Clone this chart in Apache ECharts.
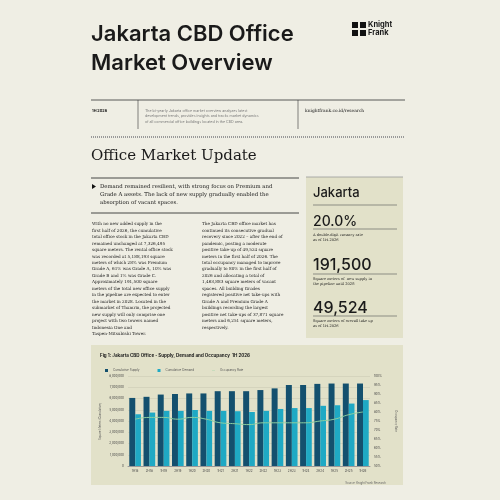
<!DOCTYPE html>
<html><head><meta charset="utf-8">
<script src="https://cdn.jsdelivr.net/npm/echarts@6/dist/echarts.min.js"></script>
<style>html,body{margin:0;padding:0;background:#efeee4}#c{width:500px;height:500px}</style>
</head><body><div id="c"></div>
<script>
const categories=['1H18','2H18','1H19','2H19','1H20','2H20','1H21','2H21','1H22','2H22','1H23','2H23','1H24','2H24','1H25','2H25','1H26'];
const cumulativeSupply=[6050000,6150000,6350000,6400000,6450000,6450000,6650000,6650000,6650000,6750000,6900000,7200000,7200000,7300000,7330000,7330000,7330000];
const cumulativeDemand=[4600000,4750000,4900000,4900000,4980000,4900000,4900000,4870000,4800000,4900000,5070000,5150000,5150000,5350000,5400000,5550000,5860000];
const occupancyRate=[76,77,77,76,77,76,74,73.5,73,74,74,74,74,75,76,78.5,80];
const leftTicks=[0,8000000,1000000];
const rightTicks=[50,100,5];

const serif='"DejaVu Serif", "Liberation Serif", serif';
const sans='Inter, "Noto Sans", sans-serif';
function t(x,y,text,size,opt,extra){return Object.assign({type:'text',x:x,y:y,style:Object.assign({text:text,fontSize:size,fill:'#1a1a1a',fontFamily:sans,lineHeight:size*1.35},opt||{})},extra||{});}
function ln(x1,y1,x2,y2,w,c,dash){return {type:'line',shape:{x1,y1,x2,y2},style:{stroke:c||'#333',lineWidth:w||1,lineDash:dash}};}
function rect(x,y,w,h,c){return {type:'rect',shape:{x,y,width:w,height:h},style:{fill:c},z:-10};}

const col1='With no new added supply in the\nfirst half of 2026, the cumulative\ntotal office stock in the Jakarta CBD\nremained unchanged at 7,326,495\nsquare meters. The rental office stock\nwas recorded at 5,188,193 square\nmeters of which 28% was Premium\nGrade A, 61% was Grade A, 10% was\nGrade B and 1% was Grade C.\nApproximately 191,500 square\nmeters of the total new office supply\nin the pipeline are expected to enter\nthe market in 2028. Located in the\nsubmarket of Thamrin, the projected\nnew supply will only comprise one\nproject with two towers named\nIndonesia One and\nTaspen-Mitsubishi Tower.';
const col2='The Jakarta CBD office market has\ncontinued its consecutive gradual\nrecovery since 2022 – after the end of\npandemic, posting a moderate\npositive take-up of 49,524 square\nmeters in the first half of 2026. The\ntotal occupancy managed to improve\ngradually to 80% in the first half of\n2026 and allocating a total of\n1,463,883 square meters of vacant\nspaces. All building Grades\nregistered positive net take-ups with\nGrade A and Premium Grade A\nbuildings recording the largest\npositive net take-ups of 37,871 square\nmeters and 6,251 square meters,\nrespectively.';

const graphics=[
 rect(91,345,312,140,'#e2e1c9'),
 rect(306,177,97,161,'#e2e1c9'),
 t(91,20,'Jakarta CBD Office\nMarket Overview',22,{fontWeight:600,lineHeight:29}),
 {type:'rect',shape:{x:352,y:22,width:6,height:6},style:{fill:'#111'}},
 {type:'rect',shape:{x:360,y:30,width:6,height:6},style:{fill:'#111'}},
 {type:'rect',shape:{x:352,y:30,width:6,height:6},style:{fill:'#111'}},
 {type:'rect',shape:{x:360,y:22,width:6,height:6},style:{fill:'#111'}},
 t(368,21,'Knight\nFrank',7.5,{fontWeight:'bold',lineHeight:8}),
 ln(91,100,405,100,0.8,'#333'),
 ln(138,100,138,129,0.6,'#333'),
 ln(298,100,298,129,0.6,'#333'),
 t(92,108,'1H 2026',3.8,{fontWeight:'bold'}),
 t(145,108,'The bi-yearly Jakarta office market overview analyzes latest\ndevelopment trends, provides insights and tracks market dynamics\nof all commercial office buildings located in the CBD area.',3.6,{fill:'#777',lineHeight:5.5}),
 t(305,108,'knightfrank.co.id/research',4.4,{fontFamily:serif}),
 ln(91,137,405,137,2,'#999',[1,1]),
 t(91,146,'Office Market Update',15,{fontFamily:serif}),
 ln(91,178,299,178,0.9,'#333'),
 {type:'polygon',shape:{points:[[92,184],[96,186.5],[92,189]]},style:{fill:'#111'}},
 t(100,183,'Demand remained resilient, with strong focus on Premium and\nGrade A assets. The lack of new supply gradually enabled the\nabsorption of vacant spaces.',5.4,{fontFamily:serif,lineHeight:8}),
 ln(91,213,299,213,0.9,'#333'),
 t(92,221,col1,4.2,{fontFamily:serif,lineHeight:6.45,fill:'#222'}),
 t(202,221,col2,4.2,{fontFamily:serif,lineHeight:6.45,fill:'#222'}),
 ln(306,177,403,177,0.8,'#999'),
 t(313,184,'Jakarta',13,{fontWeight:500}),
 ln(313,205,397,205,0.6,'#555'),
 t(313,212,'20.0%',14,{fontWeight:500}),
 ln(313,229,397,229,0.6,'#555'),
 t(313,232,'A double-digit vacancy rate\nas of 1H-2026',3.6,{fontFamily:serif,lineHeight:5.2}),
 t(313,254,'191,500',16,{fontWeight:500}),
 ln(313,274,397,274,0.6,'#555'),
 t(313,276,'Square meters of  new supply in\nthe pipeline until 2028',3.6,{fontFamily:serif,lineHeight:5.2}),
 t(313,297,'49,524',16,{fontWeight:500}),
 ln(313,316,397,316,0.6,'#555'),
 t(313,318,'Square meters of overall take up\nas of 1H-2026',3.6,{fontFamily:serif,lineHeight:5.2}),
 t(100,353,'Fig 1: Jakarta CBD Office - Supply, Demand and Occupancy  1H 2026',4.5,{fontWeight:'bold'}),
 t(98,440,'Square Meters (Cumulative)',2.8,{fill:'#555'},{rotation:Math.PI/2}),
 t(386,481,'Source: Knight Frank Research',2.8,{fill:'#666',align:'right'})
];

const chart=echarts.init(document.getElementById('c'));
chart.setOption({
 backgroundColor:'#efeee4',animation:false,
 textStyle:{fontFamily:sans},
 graphic:graphics,
 legend:{left:100,top:364,itemWidth:3,itemHeight:3,itemGap:18,textStyle:{fontSize:3,color:'#555'},
  data:[{name:'Cumulative Supply',icon:'rect'},{name:'Cumulative Demand',icon:'rect'},{name:'Occupancy Rate',icon:'path://M0,0H10V1H0Z',itemStyle:{color:'#8ccfa0'}}]},
 grid:{left:128,right:130,top:376,bottom:34},
 xAxis:{type:'category',data:categories,axisTick:{show:false},axisLine:{lineStyle:{color:'#999'}},axisLabel:{fontSize:3,color:'#444',margin:4,interval:0}},
 yAxis:[
  {type:'value',min:leftTicks[0],max:leftTicks[1],interval:leftTicks[2],axisLabel:{fontSize:3,color:'#444',formatter:v=>v.toLocaleString('en-US'),margin:4},splitLine:{lineStyle:{color:'#c8c7b0',width:0.5}}},
  {type:'value',min:rightTicks[0],max:rightTicks[1],interval:rightTicks[2],position:'right',axisLabel:{fontSize:3,color:'#444',formatter:'{value}%',margin:4},splitLine:{show:false},
   name:'Occupancy Rate',nameLocation:'middle',nameRotate:-90,nameGap:24,nameTextStyle:{fontSize:2.8,color:'#555'}}
 ],
 series:[
  {name:'Cumulative Supply',type:'bar',data:cumulativeSupply,itemStyle:{color:'#14506e'},barWidth:'42%',barGap:'0%'},
  {name:'Cumulative Demand',type:'bar',data:cumulativeDemand,itemStyle:{color:'#1fa9c4'},barWidth:'40%'},
  {name:'Occupancy Rate',type:'line',yAxisIndex:1,data:occupancyRate,smooth:true,symbol:'none',lineStyle:{color:'#8ccfa0',width:1},itemStyle:{color:'#8ccfa0'}}
 ]
});
</script></body></html>
